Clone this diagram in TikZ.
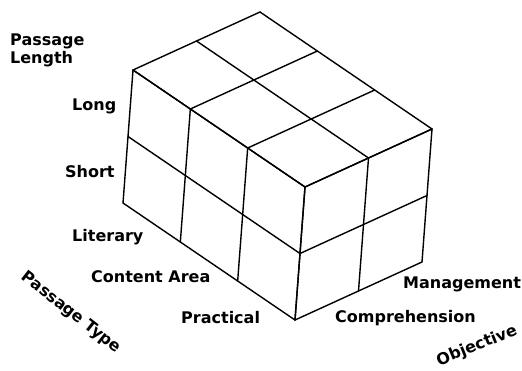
\documentclass[tikz,border=0pt]{standalone}
\usepackage{fontspec}
\setmainfont{DejaVu Sans}
\begin{document}
\begin{tikzpicture}[x=1pt,y=-1pt,
  lbl/.style={font=\bfseries\fontsize{16}{19}\selectfont, inner sep=0pt, anchor=base west},
  axlbl/.style={font=\bfseries\fontsize{16}{19}\selectfont, inner sep=0pt},
  edge/.style={line width=1.4pt, line join=round, line cap=round}]
\useasboundingbox (0,0) rectangle (522,370);
% grid points: i along left (3), j along right (2), k downward (2)
\foreach \i in {0,...,3}{
  \foreach \j in {0,1,2}{
    \foreach \k in {0,1,2}{
      \coordinate (p\i\j\k) at ({305-57.33*\i+63.5*\j-5*\k},{187-39*\i-29*\j+66.5*\k});
    }
  }
}
% top face
\foreach \i in {0,...,3} \draw[edge] (p\i00) -- (p\i20);
\foreach \j in {0,1,2} \draw[edge] (p0\j0) -- (p3\j0);
% left face
\foreach \i in {0,...,3} \draw[edge] (p\i00) -- (p\i02);
\foreach \k in {0,1,2} \draw[edge] (p00\k) -- (p30\k);
% right face
\foreach \j in {0,1,2} \draw[edge] (p0\j0) -- (p0\j2);
\foreach \k in {0,1,2} \draw[edge] (p00\k) -- (p02\k);
% labels
\node[lbl] (plen1) at (10,45) {Passage};
\node[lbl] (plen2) at (10,63) {Length};
\node[lbl] (long) at (72,110) {Long};
\node[lbl] (short) at (65,177) {Short};
\node[lbl] (lit) at (72,241) {Literary};
\node[lbl] (cont) at (91,282) {Content Area};
\node[lbl] (prac) at (181,323) {Practical};
\node[lbl] (comp) at (335,322) {Comprehension};
\node[lbl] (mgmt) at (403,288) {Management};
\node[axlbl, rotate=-38] (ptype) at (71,313) {Passage Type};
\node[axlbl, rotate=22] (obj) at (477,346) {Objective};
\end{tikzpicture}
\end{document}
